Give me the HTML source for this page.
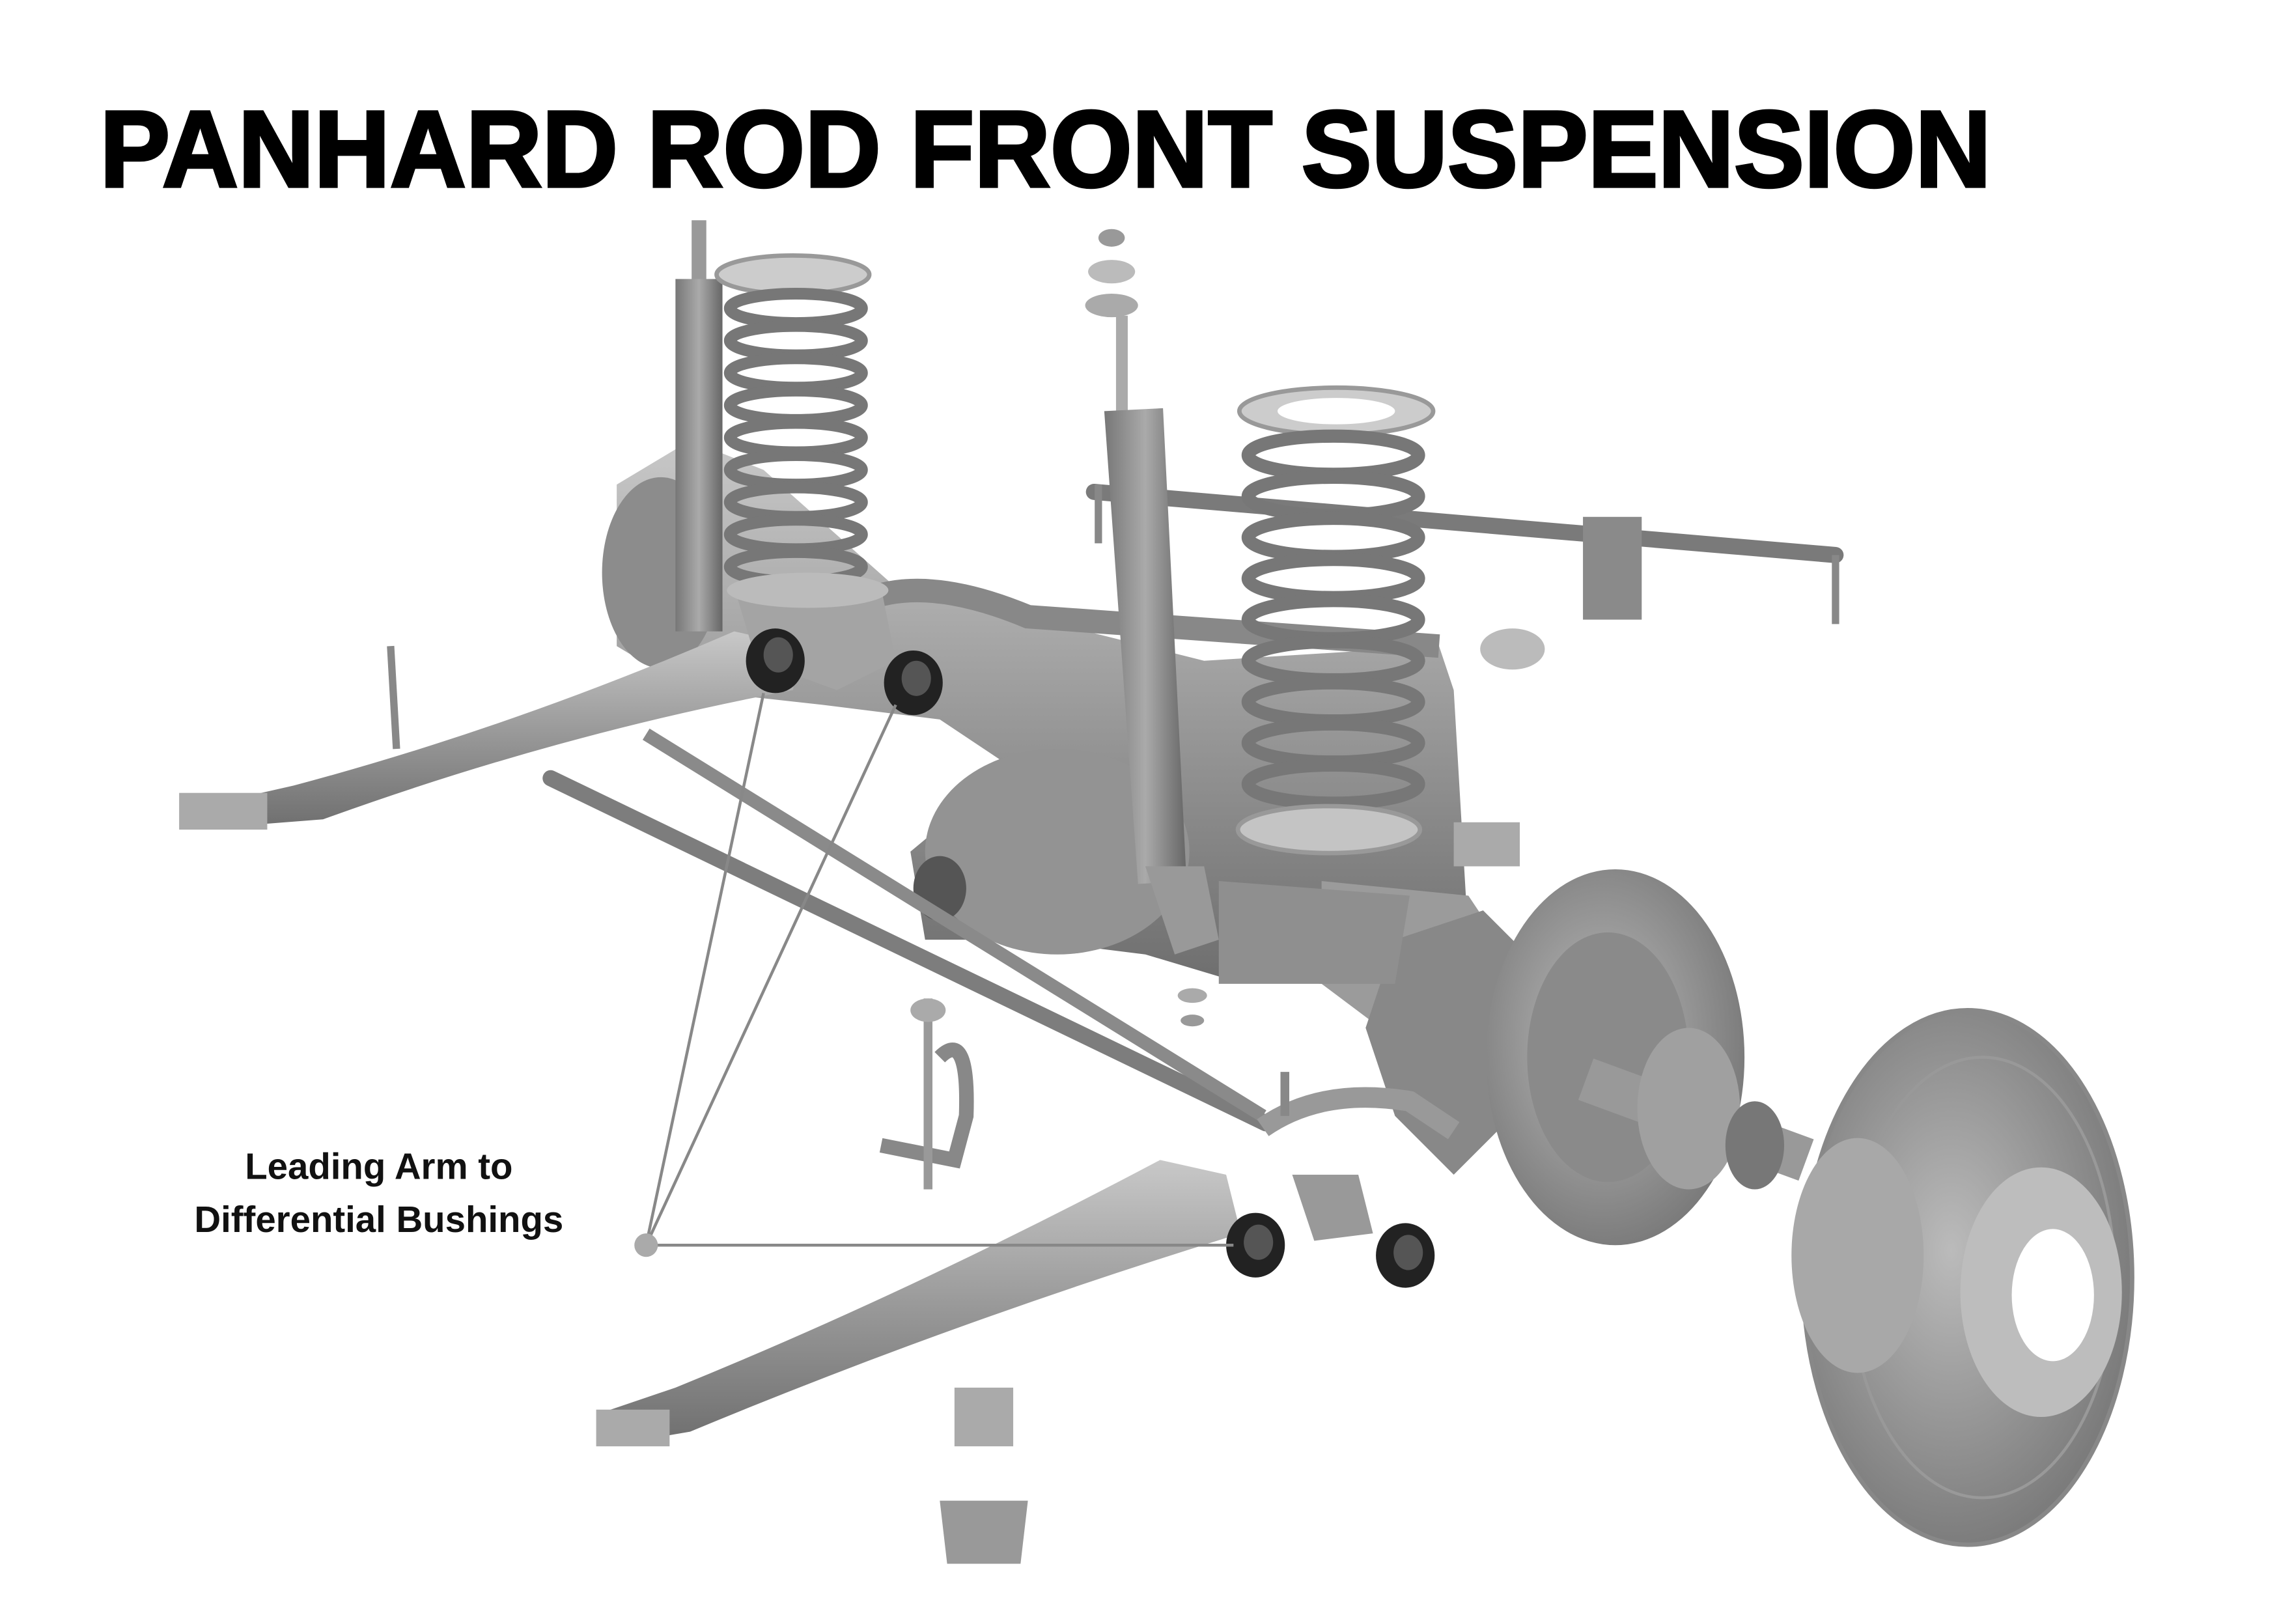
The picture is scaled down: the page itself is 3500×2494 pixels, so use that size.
<!DOCTYPE html>
<html><head><meta charset="utf-8"><style>
html,body{margin:0;padding:0;background:#fff;}
svg{display:block;}
</style></head><body>
<svg width="3500" height="2494" viewBox="0 0 1552 1106" preserveAspectRatio="none" xmlns="http://www.w3.org/2000/svg">
<defs>
<linearGradient id="g1" x1="0" y1="0" x2="0" y2="1"><stop offset="0" stop-color="#c8c8c8"/><stop offset="0.5" stop-color="#9a9a9a"/><stop offset="1" stop-color="#6e6e6e"/></linearGradient>
<linearGradient id="g2" x1="0" y1="0" x2="1" y2="0"><stop offset="0" stop-color="#777"/><stop offset="0.5" stop-color="#aaa"/><stop offset="1" stop-color="#666"/></linearGradient>
<radialGradient id="disc" cx="0.45" cy="0.45" r="0.6"><stop offset="0" stop-color="#bbb"/><stop offset="1" stop-color="#777"/></radialGradient>
</defs>
<rect width="1552" height="1106" fill="#fff"/>
<text x="68" y="127" font-family="Liberation Sans, sans-serif" font-weight="bold" font-size="74" textLength="1288" lengthAdjust="spacingAndGlyphs" fill="#000" stroke="#000" stroke-width="2">PANHARD ROD FRONT SUSPENSION</text>

<line x1="745" y1="335" x2="1250" y2="378" stroke="#7a7a7a" stroke-width="11" stroke-linecap="round"/>
<rect x="1078" y="352" width="40" height="70" fill="#8a8a8a"/>
<line x1="1250" y1="378" x2="1250" y2="425" stroke="#888" stroke-width="5"/>
<line x1="748" y1="330" x2="748" y2="370" stroke="#888" stroke-width="5"/>

<polygon points="420,330 470,300 520,320 610,400 700,420 820,450 980,440 990,470 1000,640 940,660 900,670 830,665 780,650 700,640 630,640 620,580 650,555 700,530 640,490 560,480 470,470 420,440" fill="url(#g1)"/>
<ellipse cx="450" cy="390" rx="40" ry="65" fill="#8c8c8c"/>
<ellipse cx="720" cy="580" rx="90" ry="70" fill="#939393"/>
<ellipse cx="640" cy="605" rx="18" ry="22" fill="#555"/>
<polygon points="900,600 1000,610 1020,640 1000,690 940,700 900,670" fill="#9b9b9b"/>
<polygon points="950,640 1010,620 1050,660 1030,760 990,800 950,760 930,700" fill="#888"/>
<polygon points="830,600 960,610 950,670 830,670" fill="#8f8f8f"/>

<path d="M600,405 Q640,395 700,420 L980,440" stroke="#888" stroke-width="16" fill="none"/>
<line x1="375" y1="530" x2="862" y2="765" stroke="#7d7d7d" stroke-width="11" stroke-linecap="round"/>
<line x1="440" y1="500" x2="860" y2="760" stroke="#8a8a8a" stroke-width="9"/>
<path d="M640,720 Q660,700 658,760 L650,790 L600,780" stroke="#888" stroke-width="10" fill="none"/>
<line x1="632" y1="680" x2="632" y2="810" stroke="#999" stroke-width="6"/>
<ellipse cx="632" cy="688" rx="12" ry="8" fill="#aaa"/>
<line x1="266" y1="440" x2="270" y2="510" stroke="#888" stroke-width="5"/>

<path d="M125,552 L200,535 Q350,495 500,430 L545,440 L540,470 Q380,500 220,558 L130,565 Z" fill="url(#g1)"/>
<rect x="122" y="540" width="60" height="25" fill="#aaa"/>

<rect x="471" y="150" width="10" height="50" fill="#999"/>
<rect x="460" y="190" width="32" height="240" fill="url(#g2)"/>
<ellipse cx="540" cy="187" rx="52" ry="13" fill="#ccc" stroke="#999" stroke-width="3"/>
<g fill="none" stroke="#777" stroke-width="8">
<ellipse cx="542" cy="210" rx="45" ry="10"/><ellipse cx="542" cy="232" rx="45" ry="10"/><ellipse cx="542" cy="254" rx="45" ry="10"/><ellipse cx="542" cy="276" rx="45" ry="10"/><ellipse cx="542" cy="298" rx="45" ry="10"/><ellipse cx="542" cy="320" rx="45" ry="10"/><ellipse cx="542" cy="342" rx="45" ry="10"/><ellipse cx="542" cy="364" rx="45" ry="10"/><ellipse cx="542" cy="386" rx="45" ry="10"/>
</g>
<polygon points="500,400 600,400 610,450 570,470 515,450" fill="#a4a4a4"/>
<ellipse cx="550" cy="402" rx="55" ry="12" fill="#bbb"/>

<ellipse cx="910" cy="280" rx="66" ry="16" fill="#ccc" stroke="#999" stroke-width="3"/>
<ellipse cx="910" cy="280" rx="40" ry="9" fill="#fff"/>
<g fill="none" stroke="#777" stroke-width="9">
<ellipse cx="908" cy="310" rx="58" ry="13"/><ellipse cx="908" cy="338" rx="58" ry="13"/><ellipse cx="908" cy="366" rx="58" ry="13"/><ellipse cx="908" cy="394" rx="58" ry="13"/><ellipse cx="908" cy="422" rx="58" ry="13"/><ellipse cx="908" cy="450" rx="58" ry="13"/><ellipse cx="908" cy="478" rx="58" ry="13"/><ellipse cx="908" cy="506" rx="58" ry="13"/><ellipse cx="908" cy="534" rx="58" ry="13"/>
</g>
<ellipse cx="905" cy="565" rx="62" ry="16" fill="#c4c4c4" stroke="#999" stroke-width="3"/>

<rect x="760" y="215" width="8" height="70" fill="#aaa"/>
<polygon points="752,280 792,278 808,600 775,602" fill="url(#g2)"/>
<ellipse cx="757" cy="162" rx="9" ry="6" fill="#999"/>
<ellipse cx="757" cy="185" rx="16" ry="8" fill="#bbb"/>
<ellipse cx="757" cy="208" rx="18" ry="8" fill="#aaa"/>
<polygon points="780,590 820,590 830,640 800,650" fill="#999"/>

<ellipse cx="1030" cy="442" rx="22" ry="14" fill="#bbb"/>
<rect x="990" y="560" width="45" height="30" fill="#aaa"/>
<ellipse cx="812" cy="678" rx="10" ry="5" fill="#aaa"/><ellipse cx="812" cy="695" rx="8" ry="4" fill="#999"/>

<ellipse cx="1100" cy="720" rx="88" ry="128" fill="url(#disc)"/>
<ellipse cx="1095" cy="720" rx="55" ry="85" fill="#8a8a8a"/>
<line x1="1080" y1="735" x2="1230" y2="790" stroke="#999" stroke-width="30"/>
<ellipse cx="1150" cy="755" rx="35" ry="55" fill="#a0a0a0"/>
<ellipse cx="1195" cy="780" rx="20" ry="30" fill="#777"/>
<path d="M860,768 Q900,740 960,750 L990,770" stroke="#999" stroke-width="14" fill="none"/>
<line x1="875" y1="730" x2="875" y2="760" stroke="#888" stroke-width="6"/>

<ellipse cx="1340" cy="870" rx="112" ry="182" fill="url(#disc)" stroke="#888" stroke-width="3"/>
<ellipse cx="1350" cy="870" rx="90" ry="150" fill="none" stroke="#999" stroke-width="2"/>
<ellipse cx="1265" cy="855" rx="45" ry="80" fill="#a8a8a8"/>
<ellipse cx="1390" cy="880" rx="55" ry="85" fill="#bdbdbd"/>
<ellipse cx="1398" cy="882" rx="28" ry="45" fill="#fff"/>

<path d="M410,962 L460,945 Q620,880 790,790 L835,800 L845,840 Q650,900 470,975 L412,985 Z" fill="url(#g1)"/>
<rect x="406" y="960" width="50" height="25" fill="#aaa"/>
<polygon points="880,800 925,800 935,840 895,845" fill="#999"/>
<polygon points="650,945 690,945 690,985 650,985" fill="#aaa"/>
<path d="M640,1022 L700,1022 L695,1065 L645,1065 Z" fill="#999"/>

<ellipse cx="528" cy="450" rx="20" ry="22" fill="#222"/><ellipse cx="530" cy="446" rx="10" ry="12" fill="#555"/>
<ellipse cx="622" cy="465" rx="20" ry="22" fill="#222"/><ellipse cx="624" cy="462" rx="10" ry="12" fill="#555"/>
<ellipse cx="855" cy="848" rx="20" ry="22" fill="#222"/><ellipse cx="857" cy="846" rx="10" ry="12" fill="#555"/>
<ellipse cx="957" cy="855" rx="20" ry="22" fill="#222"/><ellipse cx="959" cy="853" rx="10" ry="12" fill="#555"/>

<g stroke="#888" stroke-width="2">
<line x1="440" y1="848" x2="520" y2="472"/>
<line x1="440" y1="848" x2="610" y2="480"/>
<line x1="440" y1="848" x2="840" y2="848"/>
</g>
<circle cx="440" cy="848" r="8" fill="#aaa"/>
<g font-family="Liberation Sans, sans-serif" font-weight="bold" font-size="25" fill="#111" text-anchor="middle">
<text x="258" y="803">Leading Arm to</text>
<text x="258" y="839">Differential Bushings</text>
</g>
</svg>
</body></html>
